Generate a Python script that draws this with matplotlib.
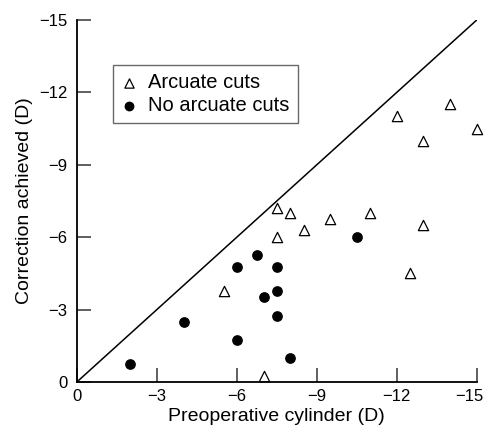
import matplotlib.pyplot as plt
from matplotlib.transforms import ScaledTranslation

plt.rcParams['font.family'] = ['Liberation Sans', 'DejaVu Sans']

# Arcuate cuts (triangles)
arc_x = [-15, -14, -12, -13, -7.5, -8, -7.5, -8.5, -9.5, -11, -13, -12.5, -5.5, -7]
arc_y = [-10.5, -11.5, -11, -10, -7.2, -7, -6, -6.3, -6.75, -7, -6.5, -4.5, -3.75, -0.25]

# No arcuate cuts (filled circles)
no_x = [-2, -4, -6, -6, -6.75, -7, -7.5, -7.5, -7.5, -8, -10.5]
no_y = [-0.75, -2.5, -1.75, -4.75, -5.25, -3.5, -4.75, -3.75, -2.75, -1, -6]

ticks = [0, -3, -6, -9, -12, -15]
tick_labels = ["0", "\u22123", "\u22126", "\u22129", "\u221212", "\u221215"]

fig = plt.figure(figsize=(4.87, 4.34), dpi=100)
ax = fig.add_axes([0.158, 0.120, 0.821, 0.834])

# line of equality
ax.plot([0, -15], [0, -15], color="black", lw=1.1)

ax.scatter(arc_x, arc_y, marker="^", s=55, facecolors="white", edgecolors="black",
           linewidths=0.9, label="Arcuate cuts", zorder=3, clip_on=False)
ax.scatter(no_x, no_y, marker="o", s=45, color="black", label="No arcuate cuts",
           zorder=3, clip_on=False)

ax.set_xlim(0, -15)
ax.set_ylim(0, -15)
ax.set_xticks(ticks)
ax.set_xticklabels(tick_labels)
ax.set_yticks(ticks)
ax.set_yticklabels(tick_labels)
ax.tick_params(direction="in", length=10, width=1.2, labelsize=12, color="#444444")
ax.tick_params(axis="x", pad=5)
ax.tick_params(axis="y", pad=7)

# last x tick label sits a little left of its tick
last = ax.get_xticklabels()[-1]
last.set_transform(last.get_transform() + ScaledTranslation(-7 / 100, 0, fig.dpi_scale_trans))

ax.spines["top"].set_visible(False)
ax.spines["right"].set_visible(False)
for s in ["left", "bottom"]:
    ax.spines[s].set_linewidth(1.3)

ax.set_xlabel("Preoperative cylinder (D)", fontsize=14, labelpad=3)
ax.set_ylabel("Correction achieved (D)", fontsize=14, labelpad=4)

leg = ax.legend(loc="upper left", bbox_to_anchor=(0.09, 0.876), borderaxespad=0,
                fontsize=14.5, frameon=True, fancybox=False, edgecolor="#444444",
                handletextpad=0.55, borderpad=0.4, labelspacing=0.22,
                handlelength=0.8, scatterpoints=1, markerscale=0.9)
leg.get_frame().set_linewidth(1.0)

fig.savefig("out.png", dpi=100)
